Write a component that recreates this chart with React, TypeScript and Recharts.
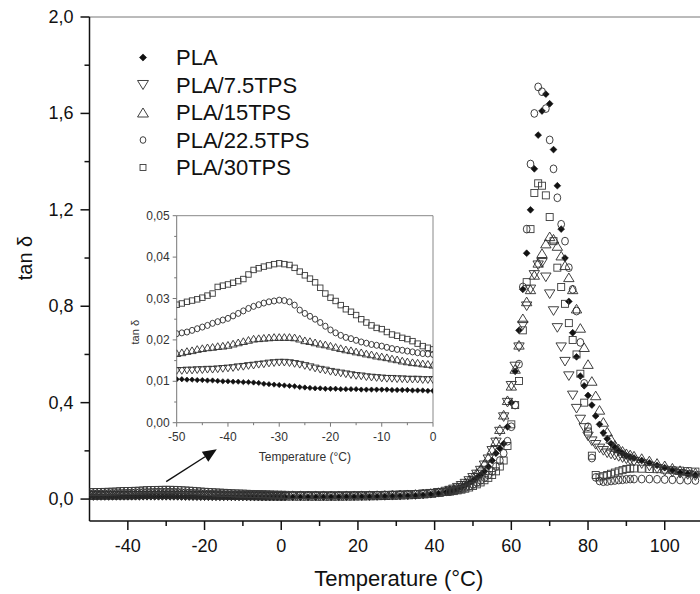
import React from 'react';
import { ScatterChart, Scatter, XAxis, YAxis, ReferenceLine } from 'recharts';

// series in legend order
const SERIES_NAMES = ['PLA', 'PLA/7.5TPS', 'PLA/15TPS', 'PLA/22.5TPS', 'PLA/30TPS'];
const SERIES_SHAPES = ['diamond', 'down', 'up', 'circle', 'square'];

// low temperature region (inset), -50..0 °C
const INSET_TEMPS = [
  -50, -49, -48, -47, -46, -45, -44, -43, -42, -41, -40, -39, -38, -37, -36, -35, -34,
  -33, -32, -31, -30, -29, -28, -27, -26, -25, -24, -23, -22, -21, -20, -19, -18, -17,
  -16, -15, -14, -13, -12, -11, -10, -9, -8, -7, -6, -5, -4, -3, -2, -1, 0,
];
const INSET_PLA = [
  0.0105, 0.0105, 0.0104, 0.0104, 0.0103, 0.0103, 0.0102, 0.0102, 0.0101, 0.01,
  0.01, 0.0099, 0.0099, 0.0098, 0.0098, 0.0097, 0.0096, 0.0094, 0.0093, 0.0092,
  0.0091, 0.009, 0.0089, 0.0088, 0.0086, 0.0085, 0.0084, 0.0083, 0.0083, 0.0082,
  0.0082, 0.0082, 0.0081, 0.0081, 0.0081, 0.0081, 0.008, 0.008, 0.008, 0.008,
  0.008, 0.008, 0.0079, 0.0079, 0.0079, 0.0079, 0.0078, 0.0078, 0.0078, 0.0077, 0.0077,
];
const INSET_TPS75 = [
  0.0125, 0.0125, 0.0126, 0.0126, 0.0127, 0.0127, 0.0128, 0.0128, 0.0129, 0.013,
  0.0131, 0.0132, 0.0134, 0.0135, 0.0137, 0.0138, 0.014, 0.0141, 0.0143, 0.0144,
  0.0145, 0.0145, 0.0144, 0.0142, 0.014, 0.0137, 0.0134, 0.0131, 0.0128, 0.0126,
  0.0123, 0.0121, 0.0119, 0.0117, 0.0115, 0.0113, 0.0112, 0.011, 0.0109, 0.0108,
  0.0107, 0.0106, 0.0106, 0.0105, 0.0105, 0.0104, 0.0104, 0.0104, 0.0103, 0.0103, 0.0103,
];
const INSET_TPS15 = [
  0.0168, 0.017, 0.0173, 0.0175, 0.0178, 0.018, 0.0182, 0.0183, 0.0185, 0.0186,
  0.0188, 0.0191, 0.0194, 0.0197, 0.02, 0.0203, 0.0204, 0.0205, 0.0206, 0.0207,
  0.0207, 0.0207, 0.0207, 0.0206, 0.0203, 0.0199, 0.0197, 0.0194, 0.0191, 0.0189,
  0.0186, 0.0183, 0.018, 0.0177, 0.0175, 0.0172, 0.017, 0.0167, 0.0165, 0.0162,
  0.016, 0.0158, 0.0155, 0.0153, 0.015, 0.0148, 0.0146, 0.0145, 0.0143, 0.0142, 0.014,
];
const INSET_TPS225 = [
  0.0215, 0.0217, 0.0219, 0.0223, 0.0227, 0.0231, 0.0235, 0.024, 0.0244, 0.0248,
  0.0252, 0.0258, 0.0264, 0.027, 0.0276, 0.0281, 0.0285, 0.0289, 0.0292, 0.0294,
  0.0296, 0.0295, 0.0292, 0.0284, 0.0272, 0.0264, 0.0257, 0.025, 0.0242, 0.0233,
  0.0224, 0.0217, 0.0211, 0.0206, 0.0203, 0.0199, 0.0195, 0.0192, 0.0189, 0.0187,
  0.0185, 0.0182, 0.0179, 0.0177, 0.0175, 0.0173, 0.0171, 0.0169, 0.0167, 0.0166, 0.0165,
];
const INSET_TPS30 = [
  0.0285, 0.0288, 0.0292, 0.0295, 0.0298, 0.0302, 0.0307, 0.0312, 0.0328, 0.0331,
  0.0334, 0.0338, 0.0342, 0.0347, 0.0358, 0.0369, 0.0373, 0.0377, 0.038, 0.0383,
  0.0385, 0.0383, 0.0381, 0.0374, 0.0365, 0.0356, 0.0348, 0.0339, 0.0326, 0.0312,
  0.0302, 0.0294, 0.0284, 0.0274, 0.0268, 0.026, 0.025, 0.0242, 0.0235, 0.0229,
  0.0226, 0.0219, 0.0213, 0.021, 0.0205, 0.0202, 0.0197, 0.0191, 0.0185, 0.0181, 0.0177,
];

// above 0 °C: glass transition and beyond
const HEAT_TEMPS = [
  1, 3, 5, 7, 9, 11, 13, 15, 17, 19, 21, 23, 25, 27, 29, 31, 33, 35, 37, 39, 41, 43,
  44, 45, 46, 47, 48, 49, 50, 51, 52, 53, 54, 55, 56, 57, 58, 59, 60, 61, 62, 63,
  64, 65, 66, 67, 68, 69, 70, 71, 72, 73, 74, 75, 76, 77, 78, 79, 80, 81, 82, 83,
  84, 85, 86, 87, 88, 89, 90, 91, 92,
  94, 96, 98, 100, 102, 104, 106, 108,
];
const HEAT_PLA = [
  0.0077, 0.0077, 0.0078, 0.0078, 0.0079, 0.008, 0.0081, 0.0083, 0.0085, 0.0088, 0.0091,
  0.0095, 0.01, 0.0106, 0.0113, 0.012, 0.013, 0.014, 0.016, 0.019, 0.023, 0.028,
  0.032, 0.036, 0.042, 0.049, 0.057, 0.066, 0.076, 0.088, 0.1, 0.115,
  0.135, 0.16, 0.19, 0.21, 0.23, 0.3, 0.4, 0.53, 0.7, 0.87,
  1.02, 1.2, 1.37, 1.51, 1.61, 1.68, 1.64, 1.45, 1.3, 1.12,
  1.0, 0.82, 0.69, 0.59, 0.51, 0.47, 0.43, 0.39, 0.345, 0.31,
  0.275, 0.25, 0.23, 0.215, 0.2, 0.19, 0.18, 0.175, 0.17,
  0.16, 0.15, 0.14, 0.13, 0.12, 0.11, 0.105, 0.1,
];
const HEAT_TPS75 = [
  0.0103, 0.0103, 0.0103, 0.0103, 0.0104, 0.0105, 0.0106, 0.0108, 0.011, 0.0113, 0.0116,
  0.012, 0.0125, 0.013, 0.0137, 0.0145, 0.0155, 0.017, 0.019, 0.022, 0.026, 0.031,
  0.035, 0.04, 0.047, 0.055, 0.064, 0.075, 0.088, 0.102, 0.118, 0.14,
  0.165, 0.2, 0.235, 0.28, 0.34, 0.4, 0.47, 0.55, 0.63, 0.72,
  0.8, 0.87, 0.93, 0.97, 0.98, 0.92, 0.85, 0.78, 0.71, 0.63,
  0.57, 0.51, 0.43, 0.375, 0.33, 0.295, 0.26, 0.24, 0.225, 0.21,
  0.2, 0.19, 0.185, 0.18, 0.175, 0.17, 0.165, 0.16, 0.155,
  0.145, 0.135, 0.125, 0.115, 0.11, 0.105, 0.1, 0.095,
];
const HEAT_TPS15 = [
  0.0139, 0.0137, 0.0135, 0.0134, 0.0133, 0.0133, 0.0133, 0.0134, 0.0136, 0.0139, 0.0143,
  0.0148, 0.0154, 0.016, 0.0168, 0.0178, 0.019, 0.0205, 0.0225, 0.025, 0.029, 0.034,
  0.038, 0.043, 0.05, 0.058, 0.068, 0.08, 0.093, 0.108, 0.125, 0.147,
  0.172, 0.205, 0.24, 0.29, 0.35, 0.41, 0.47, 0.54, 0.64, 0.75,
  0.82, 0.87, 0.93, 0.98, 1.02, 1.06, 1.09, 1.08, 1.05, 1.01,
  0.97, 0.92, 0.87, 0.79, 0.71, 0.63, 0.56, 0.49, 0.43, 0.37,
  0.32, 0.28, 0.25, 0.225, 0.21, 0.2, 0.19, 0.185, 0.18,
  0.17, 0.16, 0.15, 0.14, 0.13, 0.12, 0.115, 0.11,
];
const HEAT_TPS225 = [
  0.0164, 0.0162, 0.016, 0.0158, 0.0157, 0.0156, 0.0155, 0.0155, 0.0156, 0.0158, 0.016,
  0.0164, 0.0168, 0.0173, 0.018, 0.0188, 0.0198, 0.021, 0.0226, 0.0245, 0.027, 0.03,
  0.032, 0.035, 0.039, 0.043, 0.048, 0.054, 0.061, 0.069, 0.078, 0.089,
  0.1, 0.115, 0.135, 0.16, 0.19, 0.24, 0.3, 0.39, 0.56, 0.88,
  1.12, 1.39, 1.6, 1.71, 1.69, 1.62, 1.49, 1.37, 1.25, 1.14,
  1.07, 0.96, 0.87, 0.78, 0.65, 0.48, 0.3, 0.17, 0.09, 0.075,
  0.072, 0.073, 0.075, 0.077, 0.079, 0.08, 0.082, 0.083, 0.083,
  0.083, 0.083, 0.082, 0.081, 0.08, 0.079, 0.078, 0.077,
];
const HEAT_TPS30 = [
  0.0175, 0.0172, 0.0169, 0.0166, 0.0164, 0.0162, 0.0161, 0.016, 0.016, 0.0161, 0.0163,
  0.0166, 0.017, 0.0175, 0.0182, 0.019, 0.02, 0.0212, 0.0227, 0.0245, 0.027, 0.0295,
  0.031, 0.033, 0.036, 0.039, 0.043, 0.048, 0.054, 0.061, 0.069, 0.078,
  0.088, 0.1, 0.115, 0.135, 0.16, 0.22, 0.31, 0.39, 0.49, 0.7,
  0.9, 1.12, 1.27, 1.31, 1.3, 1.26, 1.17, 1.07, 0.96, 0.88,
  0.81, 0.73, 0.66, 0.6, 0.52, 0.4, 0.28, 0.18, 0.1, 0.09,
  0.095, 0.1, 0.105, 0.11, 0.115, 0.12, 0.125, 0.127, 0.127,
  0.126, 0.125, 0.124, 0.122, 0.12, 0.118, 0.116, 0.114,
];

const INSET_VALUES = [INSET_PLA, INSET_TPS75, INSET_TPS15, INSET_TPS225, INSET_TPS30];
const HEAT_VALUES = [HEAT_PLA, HEAT_TPS75, HEAT_TPS15, HEAT_TPS225, HEAT_TPS30];

// axis ticks
const MAIN_X_TICKS = [-40, -30, -20, -10, 0, 10, 20, 30, 40, 50, 60, 70, 80, 90, 100];
const MAIN_X_LABELS = [-40, -20, 0, 20, 40, 60, 80, 100];
const MAIN_Y_TICKS = [0, 0.2, 0.4, 0.6, 0.8, 1.0, 1.2, 1.4, 1.6, 1.8, 2.0];
const MAIN_Y_LABELS = [0, 0.4, 0.8, 1.2, 1.6, 2.0];
const INSET_X_TICKS = [-50, -45, -40, -35, -30, -25, -20, -15, -10, -5, 0];
const INSET_Y_TICKS = [0, 0.005, 0.01, 0.015, 0.02, 0.025, 0.03, 0.035, 0.04, 0.045, 0.05];

// arrow from the baseline up to the inset
const ARROW_FROM = { x: -30, y: 0.072 };
const ARROW_TO = { x: -16.8, y: 0.207 };

const FONT = '"Liberation Sans", Arial, Helvetica, sans-serif';
const INK = '#111';

const toPoints = (temps: number[], vals: number[]) => temps.map((t, i) => ({ t, v: vals[i] }));
const isOneOf = (v: number, list: number[]) => list.some((l) => Math.abs(l - v) < 1e-9);
const comma = (v: number, digits: number) => v.toFixed(digits).replace('.', ',');

const mainSeries = SERIES_NAMES.map((name, i) => ({
  name,
  shape: SERIES_SHAPES[i],
  data: toPoints(INSET_TEMPS.concat(HEAT_TEMPS), INSET_VALUES[i].concat(HEAT_VALUES[i])),
}));
const insetSeries = SERIES_NAMES.map((name, i) => ({
  name,
  shape: SERIES_SHAPES[i],
  data: toPoints(INSET_TEMPS, INSET_VALUES[i]),
}));

function Marker({ kind, cx, cy, k = 1 }: { kind: string; cx?: number; cy?: number; k?: number }) {
  if (cx == null || cy == null) return null;
  const stroke = '#2b2b2b';
  const sw = 0.9;
  switch (kind) {
    case 'diamond': {
      const r = 3.4 * k;
      return (
        <polygon
          points={`${cx},${cy - r} ${cx + r},${cy} ${cx},${cy + r} ${cx - r},${cy}`}
          fill="#111"
          stroke="#111"
          strokeWidth={0.6}
        />
      );
    }
    case 'down': {
      const w = 5.2 * k;
      const h = 4.3 * k;
      return (
        <polygon
          points={`${cx - w},${cy - h} ${cx + w},${cy - h} ${cx},${cy + h}`}
          fill="none"
          stroke={stroke}
          strokeWidth={sw}
        />
      );
    }
    case 'up': {
      const w = 5.2 * k;
      const h = 4.3 * k;
      return (
        <polygon
          points={`${cx - w},${cy + h} ${cx + w},${cy + h} ${cx},${cy - h}`}
          fill="none"
          stroke={stroke}
          strokeWidth={sw}
        />
      );
    }
    case 'circle':
      return <ellipse cx={cx} cy={cy} rx={3.4 * k} ry={3.9 * k} fill="none" stroke={stroke} strokeWidth={sw} />;
    default: {
      const a = 3.5 * k;
      return <rect x={cx - a} y={cy - a} width={2 * a} height={2 * a} fill="none" stroke="#3a3a3a" strokeWidth={sw} />;
    }
  }
}

function MainXTick(props: any) {
  const { x, y, payload } = props;
  const major = isOneOf(payload.value, MAIN_X_LABELS);
  return (
    <g>
      <line x1={x} x2={x} y1={y} y2={y + (major ? 9 : 5)} stroke={INK} strokeWidth={1.5} />
      {major && (
        <text x={x} y={y + 25} textAnchor="middle" dominantBaseline="central" fontSize={18} fontFamily={FONT} fill={INK}>
          {payload.value}
        </text>
      )}
    </g>
  );
}

function MainYTick(props: any) {
  const { x, y, payload } = props;
  const major = isOneOf(payload.value, MAIN_Y_LABELS);
  return (
    <g>
      <line x1={x - (major ? 9 : 5)} x2={x} y1={y} y2={y} stroke={INK} strokeWidth={1.5} />
      {major && (
        <text x={x - 16} y={y} textAnchor="end" dominantBaseline="central" fontSize={18} fontFamily={FONT} fill={INK}>
          {comma(payload.value, 1)}
        </text>
      )}
    </g>
  );
}

function InsetXTick(props: any) {
  const { x, y, payload } = props;
  const major = Math.abs(payload.value % 10) < 1e-9;
  return (
    <g>
      <line x1={x} x2={x} y1={y} y2={y + (major ? 4 : 2.5)} stroke="#777" strokeWidth={1} />
      {major && (
        <text x={x} y={y + 14.5} textAnchor="middle" dominantBaseline="central" fontSize={12} fontFamily={FONT} fill="#333">
          {payload.value}
        </text>
      )}
    </g>
  );
}

function InsetYTick(props: any) {
  const { x, y, payload } = props;
  const v = payload.value * 100;
  const major = Math.abs(v - Math.round(v)) < 1e-6;
  return (
    <g>
      <line x1={x - (major ? 4 : 2.5)} x2={x} y1={y} y2={y} stroke="#777" strokeWidth={1} />
      {major && (
        <text x={x - 7} y={y} textAnchor="end" dominantBaseline="central" fontSize={12} fontFamily={FONT} fill="#333">
          {comma(payload.value, 2)}
        </text>
      )}
    </g>
  );
}

function ArrowShape(props: any) {
  const { x1, y1, x2, y2 } = props;
  if ([x1, y1, x2, y2].some((n) => n == null || Number.isNaN(n))) return null;
  const ang = Math.atan2(y2 - y1, x2 - x1);
  const len = 14;
  const half = 6;
  const bx = x2 - len * Math.cos(ang);
  const by = y2 - len * Math.sin(ang);
  const px = -Math.sin(ang) * half;
  const py = Math.cos(ang) * half;
  return (
    <g>
      <line x1={x1} y1={y1} x2={bx} y2={by} stroke={INK} strokeWidth={1.4} />
      <polygon points={`${x2},${y2} ${bx + px},${by + py} ${bx - px},${by - py}`} fill={INK} />
    </g>
  );
}

export default function App() {
  return (
    <div style={{ position: 'absolute', left: 0, top: 0, width: 700, height: 594, background: '#fff', fontFamily: FONT }}>
      <ScatterChart width={700} height={594} margin={{ top: 17, right: 0, bottom: 0, left: 9.5 }}>
        <XAxis
          type="number"
          dataKey="t"
          domain={[-50, 109.2]}
          ticks={MAIN_X_TICKS}
          interval={0}
          allowDataOverflow
          tickSize={0}
          tickMargin={0}
          tickLine={false}
          tick={(p: any) => <MainXTick {...p} />}
          axisLine={{ stroke: INK, strokeWidth: 1.5 }}
          height={73}
          label={{
            content: ({ viewBox }: any) => (
              <text
                x={viewBox.x + viewBox.width / 2 + 4}
                y={viewBox.y + 57}
                textAnchor="middle"
                dominantBaseline="central"
                fontSize={22}
                fontFamily={FONT}
                fill={INK}
              >
                Temperature (°C)
              </text>
            ),
          }}
        />
        <YAxis
          type="number"
          dataKey="v"
          domain={[-0.091, 2]}
          ticks={MAIN_Y_TICKS}
          interval={0}
          allowDataOverflow
          tickSize={0}
          tickMargin={0}
          tickLine={false}
          tick={(p: any) => <MainYTick {...p} />}
          axisLine={{ stroke: INK, strokeWidth: 1.5 }}
          width={80}
          label={{
            content: ({ viewBox }: any) => {
              const x = viewBox.x + 15.5;
              const y = viewBox.y + viewBox.height / 2 - 11;
              return (
                <text
                  x={x}
                  y={y}
                  transform={`rotate(-90, ${x}, ${y})`}
                  textAnchor="middle"
                  dominantBaseline="central"
                  fontSize={20}
                  fontFamily={FONT}
                  fill={INK}
                >
                  tan δ
                </text>
              );
            },
          }}
        />
        <ReferenceLine y={2} stroke="#777" strokeWidth={1} />
        <ReferenceLine segment={[ARROW_FROM, ARROW_TO]} shape={(p: any) => <ArrowShape {...p} />} />
        {mainSeries.map((s) => (
          <Scatter
            key={s.name}
            name={s.name}
            data={s.data}
            isAnimationActive={false}
            shape={(p: any) => <Marker kind={s.shape} cx={p.cx} cy={p.cy} />}
          />
        ))}
      </ScatterChart>

      <div style={{ position: 'absolute', left: 110, top: 195 }}>
        <ScatterChart width={340} height={280} margin={{ top: 20.7, right: 17, bottom: 0, left: 16.7 }}>
          <XAxis
            type="number"
            dataKey="t"
            domain={[-50, 0]}
            ticks={INSET_X_TICKS}
            interval={0}
            allowDataOverflow
            tickSize={0}
            tickMargin={0}
            tickLine={false}
            tick={(p: any) => <InsetXTick {...p} />}
            axisLine={{ stroke: '#777', strokeWidth: 1 }}
            height={52.3}
            label={{
              content: ({ viewBox }: any) => (
                <text
                  x={viewBox.x + viewBox.width / 2}
                  y={viewBox.y + 34}
                  textAnchor="middle"
                  dominantBaseline="central"
                  fontSize={12}
                  fontFamily={FONT}
                  fill="#333"
                >
                  Temperature (°C)
                </text>
              ),
            }}
          />
          <YAxis
            type="number"
            dataKey="v"
            domain={[0, 0.05]}
            ticks={INSET_Y_TICKS}
            interval={0}
            allowDataOverflow
            tickSize={0}
            tickMargin={0}
            tickLine={false}
            tick={(p: any) => <InsetYTick {...p} />}
            axisLine={{ stroke: '#777', strokeWidth: 1 }}
            width={50}
            label={{
              content: ({ viewBox }: any) => {
                const x = viewBox.x + 8.3;
                const y = viewBox.y + viewBox.height / 2 + 13;
                return (
                  <text
                    x={x}
                    y={y}
                    transform={`rotate(-90, ${x}, ${y})`}
                    textAnchor="middle"
                    dominantBaseline="central"
                    fontSize={11}
                    fontFamily={FONT}
                    fill="#333"
                  >
                    tan δ
                  </text>
                );
              },
            }}
          />
          <ReferenceLine y={0.05} stroke="#888" strokeWidth={1} />
          <ReferenceLine x={0} stroke="#888" strokeWidth={1} />
          {insetSeries.map((s) => (
            <Scatter
              key={s.name}
              name={s.name}
              data={s.data}
              isAnimationActive={false}
              shape={(p: any) => <Marker kind={s.shape} cx={p.cx} cy={p.cy} k={0.78} />}
            />
          ))}
        </ScatterChart>
      </div>

      <svg width={340} height={160} style={{ position: 'absolute', left: 120, top: 35, pointerEvents: 'none' }}>
        {SERIES_NAMES.map((name, i) => {
          const cy = 22.5 + i * 27.5;
          return (
            <g key={name}>
              <Marker kind={SERIES_SHAPES[i]} cx={23} cy={cy} k={SERIES_SHAPES[i] === 'circle' || SERIES_SHAPES[i] === 'square' ? 0.85 : 1.05} />
              <text x={56} y={cy} dominantBaseline="central" fontSize={22} fontFamily={FONT} fill={INK}>
                {name}
              </text>
            </g>
          );
        })}
      </svg>
    </div>
  );
}
